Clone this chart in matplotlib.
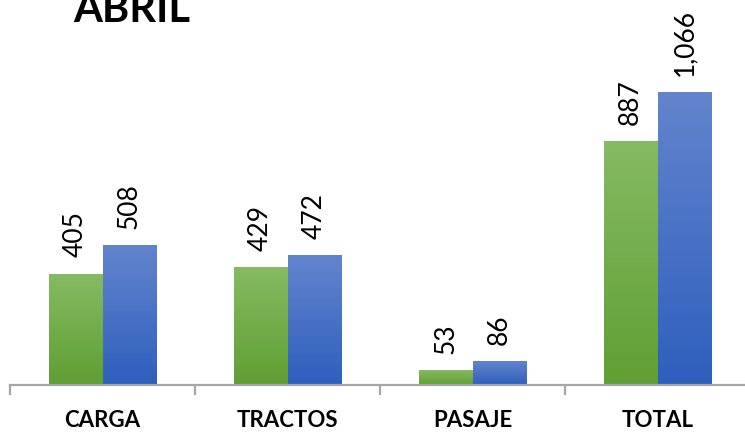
import numpy as np
import matplotlib.pyplot as plt
from matplotlib.colors import LinearSegmentedColormap

categories = ["CARGA", "TRACTOS", "PASAJE", "TOTAL"]
serie_a = [405, 429, 53, 887]
serie_b = [508, 472, 86, 1066]
title = "ABRIL"

plt.rcParams['font.family'] = ['Lato', 'DejaVu Sans']

fig = plt.figure(figsize=(7.45, 4.32), dpi=100)
ax = fig.add_axes([10 / 745, 1 - 385 / 432, 740 / 745, 385 / 432])

x = np.arange(len(categories))
w = 0.29

green = LinearSegmentedColormap.from_list("g", ["#5f9f33", "#86ba63"])
blue = LinearSegmentedColormap.from_list("b", ["#2e5fbd", "#6384cd"])

bars_a = ax.bar(x - w / 2, serie_a, w, color="none")
bars_b = ax.bar(x + w / 2, serie_b, w, color="none")

grad = np.linspace(0, 1, 256).reshape(-1, 1)
for bars, cmap in [(bars_a, green), (bars_b, blue)]:
    for b in bars:
        x0, y0 = b.get_x(), b.get_y()
        ax.imshow(grad, cmap=cmap, origin="lower", aspect="auto",
                  extent=[x0, x0 + b.get_width(), y0, y0 + b.get_height()],
                  zorder=2)

for bars, vals in [(bars_a, serie_a), (bars_b, serie_b)]:
    for b, v in zip(bars, vals):
        ax.annotate(f"{v:,}", (b.get_x() + b.get_width() / 2, b.get_height()),
                    xytext=(0, 12), textcoords="offset points",
                    rotation=90, ha="center", va="bottom", fontsize=19)

ax.set_xlim(-0.5, 3.5)
ax.set_ylim(0, 1405)

for s in ["top", "right", "left"]:
    ax.spines[s].set_visible(False)
ax.spines["bottom"].set_color("#a6a6a6")
ax.spines["bottom"].set_linewidth(1.6)
ax.set_yticks([])

ax.set_xticks(x)
ax.set_xticklabels(categories, fontsize=16, fontweight="bold")
ax.tick_params(axis="x", which="major", length=0, pad=18)
ax.set_xticks(np.arange(-0.5, 4, 1), minor=True)
ax.tick_params(axis="x", which="minor", length=7, width=1.6, color="#a6a6a6")

fig.text(73 / 745, 1 - 22 / 432, title, fontsize=30, fontweight="bold",
         ha="left", va="baseline")

fig.savefig("out.png", dpi=100)
